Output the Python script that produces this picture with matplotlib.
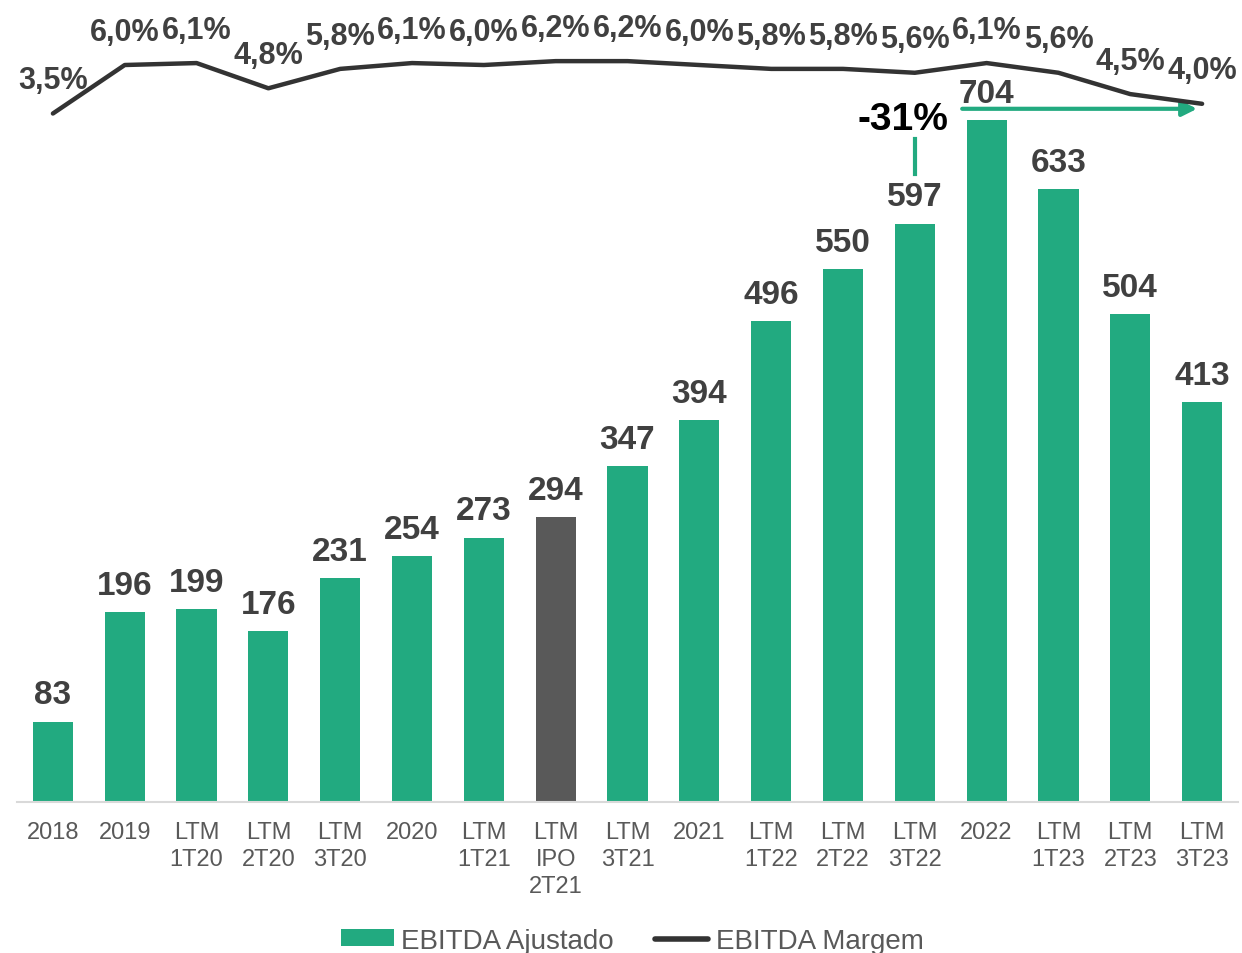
import matplotlib
matplotlib.use("Agg")
import matplotlib.pyplot as plt
from matplotlib.patches import Patch
from matplotlib.lines import Line2D

plt.rcParams['font.family'] = ['Liberation Sans', 'DejaVu Sans']

categories = ["2018", "2019", "LTM\n1T20", "LTM\n2T20", "LTM\n3T20", "2020", "LTM\n1T21",
              "LTM\nIPO\n2T21", "LTM\n3T21", "2021", "LTM\n1T22", "LTM\n2T22", "LTM\n3T22",
              "2022", "LTM\n1T23", "LTM\n2T23", "LTM\n3T23"]
ebitda = [83, 196, 199, 176, 231, 254, 273, 294, 347, 394, 496, 550, 597, 704, 633, 504, 413]
margem = [3.5, 6.0, 6.1, 4.8, 5.8, 6.1, 6.0, 6.2, 6.2, 6.0, 5.8, 5.8, 5.6, 6.1, 5.6, 4.5, 4.0]
margem_labels = ["3,5%", "6,0%", "6,1%", "4,8%", "5,8%", "6,1%", "6,0%", "6,2%", "6,2%",
                 "6,0%", "5,8%", "5,8%", "5,6%", "6,1%", "5,6%", "4,5%", "4,0%"]
highlight_index = 7
change_label = "-31%"

GREEN = '#22AA80'
DARK = '#595959'
TXT = '#404040'
LINE = '#333333'

W, H = 1242, 954
fig = plt.figure(figsize=(W / 100, H / 100), dpi=100)
left, right, bottom, top = 17, 1238, 803, 10
ax = fig.add_axes([left / W, 1 - bottom / H, (right - left) / W, (bottom - top) / H])

x = list(range(len(categories)))
colors = [DARK if i == highlight_index else GREEN for i in x]
ax.bar(x, ebitda, width=0.56, color=colors, zorder=2)
ax.set_xlim(-0.5, len(categories) - 0.5)
ax.set_ylim(0, 818.5)

for i, v in enumerate(ebitda):
    ax.annotate(str(v), (i, v), xytext=(0, 8), textcoords='offset points',
                ha='center', va='bottom', fontsize=24, fontweight='bold', color=TXT)

ax.set_xticks(x)
ax.set_xticklabels(categories, fontsize=17, color=DARK, linespacing=1.27)
ax.tick_params(axis='x', length=0, pad=14)
ax.set_yticks([])
for s in ['top', 'right', 'left']:
    ax.spines[s].set_visible(False)
ax.spines['bottom'].set_color('#D9D9D9')
ax.spines['bottom'].set_linewidth(1.5)

ax2 = ax.twinx()
ax2.plot(x, margem, color=LINE, lw=3.2, solid_capstyle='round', solid_joinstyle='round', zorder=3)
ax2.set_ylim(-31.99, 8.887)
ax2.set_yticks([])
for s in ['top', 'right', 'left', 'bottom']:
    ax2.spines[s].set_visible(False)
for i, (v, lab) in enumerate(zip(margem, margem_labels)):
    ax2.annotate(lab, (i, v), xytext=(0, 24), textcoords='offset points',
                 ha='center', va='center', fontsize=22, fontweight='bold', color=TXT)

# -31% annotation
ax.annotate('', xy=(15.93, 715.5), xytext=(12.66, 715.5),
            arrowprops=dict(arrowstyle='-|>', color=GREEN, lw=3, mutation_scale=22,
                            shrinkA=0, shrinkB=0), zorder=4)
ax.plot([12, 12], [648, 684], color=GREEN, lw=3, zorder=4)
ax.text(11.84, 705, change_label, ha='center', va='center', fontsize=28,
        fontweight='bold', color='black')

handles = [Patch(facecolor=GREEN, edgecolor='none'),
           Line2D([0], [0], color=LINE, lw=4, solid_capstyle='round')]
fig.legend(handles, ['EBITDA Ajustado', 'EBITDA Margem'], loc='center',
           bbox_to_anchor=(0.509, 0.013), ncol=2, frameon=False, fontsize=20,
           labelcolor=DARK, handlelength=1.9, handleheight=0.55, handletextpad=0.27,
           columnspacing=1.5)

fig.savefig('out.png', dpi=100)
